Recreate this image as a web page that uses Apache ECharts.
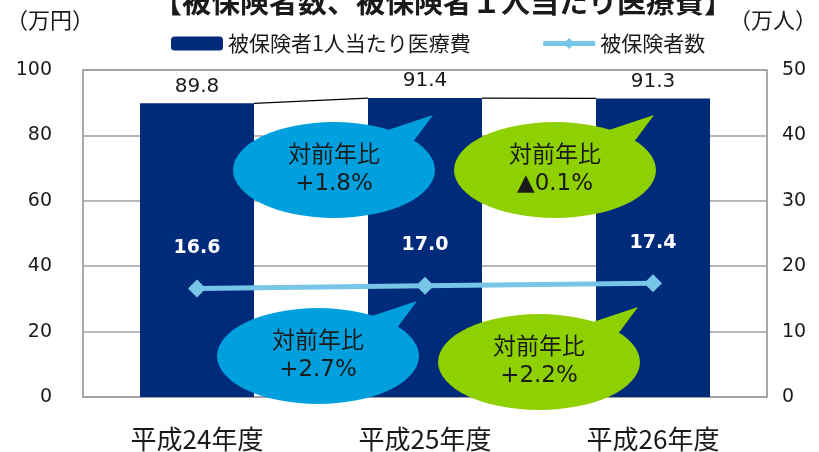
<!DOCTYPE html>
<html>
<head>
<meta charset="utf-8">
<script src="https://cdn.jsdelivr.net/npm/echarts@6/dist/echarts.min.js"></script>
<style>
  html, body { margin: 0; padding: 0; background: #fff; }
  #chart { width: 819px; height: 452px; }
</style>
</head>
<body>
<div id="chart"></div>
<script>
// データ
const years = ['平成24年度', '平成25年度', '平成26年度']
const costPerPerson = [89.8, 91.4, 91.3]   // 被保険者1人当たり医療費（万円）
const insuredCount = [16.6, 17.0, 17.4]    // 被保険者数（万人）
const costTicks = [0, 100, 20]             // min, max, interval
const countTicks = [0, 50, 10]
// 吹き出し（対前年比）
const bubbleTexts = ['+1.8%', '▲0.1%', '+2.7%', '+2.2%']

const NAVY = '#002a7a'
const LINE = '#78c6e7'
const BLUE = '#00a0de'
const GREEN = '#8fd100'
const TEXT = '#1a1a1a'
const JP = '"Noto Sans CJK JP", sans-serif'
const NUM = '"DejaVu Sans", "Noto Sans CJK JP", sans-serif'

// 棒の上端をつなぐ線
const connectors = []
for (let i = 0; i < costPerPerson.length - 1; i++) {
  connectors.push([i, costPerPerson[i], costPerPerson[i + 1]])
}

// 吹き出し1個分（系列より手前に描く）
function bubble(cx, cy, color, value) {
  return {
    type: 'group',
    x: cx,
    y: cy,
    children: [
      {
        type: 'polygon',
        z: 100,
        shape: { points: [[48, -38], [99, -55], [76, -24]] },
        style: { fill: color }
      },
      {
        type: 'circle',
        z: 100,
        shape: { cx: 0, cy: 0, r: 48 },
        scaleX: 101 / 48,
        style: { fill: color }
      },
      {
        type: 'text',
        z: 101,
        x: 0,
        y: 0,
        style: {
          text: '対前年比\n' + value,
          fill: TEXT,
          font: '23px ' + NUM,
          lineHeight: 28,
          align: 'center',
          verticalAlign: 'middle'
        }
      }
    ]
  }
}

const chart = echarts.init(document.getElementById('chart'))

const option = {
  animation: false,
  title: {
    text: '【被保険者数、被保険者１人当たり医療費】',
    left: 148,
    top: -18,
    textStyle: { fontFamily: JP, fontSize: 29, fontWeight: 'bold', color: TEXT }
  },
  legend: {
    left: 166,
    top: 28,
    itemWidth: 52,
    itemHeight: 14,
    itemGap: 70,
    data: [
      { name: '被保険者1人当たり医療費' },
      { name: '被保険者数', lineStyle: { width: 5 } }
    ],
    textStyle: { fontFamily: JP, fontSize: 21, color: TEXT }
  },
  grid: {
    left: 83,
    right: 52,
    top: 70,
    bottom: 55,
    show: true,
    borderColor: '#8c8c8c',
    borderWidth: 1.5
  },
  xAxis: {
    type: 'category',
    data: years,
    axisLine: { show: false },
    axisTick: { show: false },
    axisLabel: { fontFamily: JP, fontSize: 26, color: TEXT, margin: 29 }
  },
  yAxis: [
    {
      type: 'value',
      min: costTicks[0],
      max: costTicks[1],
      interval: costTicks[2],
      axisLine: { show: false },
      axisTick: { show: false },
      splitLine: { lineStyle: { color: '#a0a0a0', width: 1.5 } },
      axisLabel: { fontFamily: NUM, fontSize: 19, color: TEXT, margin: 31 }
    },
    {
      type: 'value',
      min: countTicks[0],
      max: countTicks[1],
      interval: countTicks[2],
      axisLine: { show: false },
      axisTick: { show: false },
      splitLine: { show: false },
      axisLabel: { fontFamily: NUM, fontSize: 19, color: TEXT, margin: 15 }
    }
  ],
  series: [
    {
      name: '被保険者1人当たり医療費',
      type: 'bar',
      data: costPerPerson,
      barWidth: '50%',
      itemStyle: { color: NAVY },
      label: {
        show: true,
        position: 'top',
        distance: 7,
        fontFamily: NUM,
        fontSize: 20,
        color: TEXT,
        formatter: p => p.value.toFixed(1)
      }
    },
    {
      type: 'custom',
      z: 3,
      silent: true,
      encode: { x: 0, y: 1 },
      data: connectors,
      renderItem: function (params, api) {
        const i = api.value(0)
        const a = api.coord([i, api.value(1)])
        const b = api.coord([i + 1, api.value(2)])
        const half = api.size([1, 0])[0] * 0.25
        return {
          type: 'line',
          shape: { x1: a[0] + half, y1: a[1], x2: b[0] - half, y2: b[1] },
          style: { stroke: '#000', lineWidth: 1.2 }
        }
      }
    },
    {
      name: '被保険者数',
      type: 'line',
      yAxisIndex: 1,
      data: insuredCount,
      z: 5,
      symbol: 'diamond',
      symbolSize: 18,
      lineStyle: { color: LINE, width: 5 },
      itemStyle: { color: LINE },
      label: {
        show: true,
        position: 'top',
        distance: 22,
        fontFamily: NUM,
        fontSize: 19,
        fontWeight: 'bold',
        color: '#fff',
        formatter: p => p.value.toFixed(1)
      }
    }
  ],
  graphic: [
    {
      type: 'text',
      left: 6,
      top: 9,
      style: { text: '（万円）', font: '22px ' + JP, fill: TEXT }
    },
    {
      type: 'text',
      right: 2,
      top: 9,
      style: { text: '（万人）', font: '22px ' + JP, fill: TEXT }
    },
    bubble(334, 170, BLUE, bubbleTexts[0]),
    bubble(555, 170, GREEN, bubbleTexts[1]),
    bubble(318, 356, BLUE, bubbleTexts[2]),
    bubble(539, 362, GREEN, bubbleTexts[3])
  ]
}

chart.setOption(option)

window.addEventListener('resize', function () {
  chart.resize()
})
</script>
</body>
</html>
